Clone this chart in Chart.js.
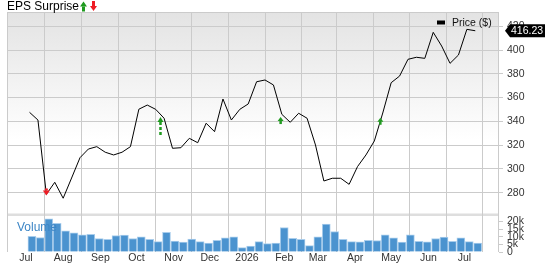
<!DOCTYPE html>
<html>
<head>
<meta charset="utf-8">
<script src="https://cdn.jsdelivr.net/npm/chart.js@4/dist/chart.umd.min.js"></script>
<style>
  html, body { margin: 0; padding: 0; background: #fff; }
</style>
</head>
<body>
<canvas id="chart" width="545" height="264"></canvas>
<script>
// x axis: month starts and the label shown at each
const monthStarts = ['2025-07-01','2025-08-01','2025-09-01','2025-10-01','2025-11-01','2025-12-01','2026-01-01','2026-02-01','2026-03-01','2026-04-01','2026-05-01','2026-06-01','2026-07-01']
const monthLabels = ['Jul','Aug','Sep','Oct','Nov','Dec','2026','Feb','Mar','Apr','May','Jun','Jul']

// right axis ticks
const priceTicks = [280, 300, 320, 340, 360, 380, 400, 420]
const volumeTicks = [0, 5, 10, 15, 20]
const volumeTickLabels = ['0', '5k', '10k', '15k', '20k']

// weekly closes, first week ending 2025-07-04
const priceStart = '2025-07-04'
const prices = [347.6, 341.1, 278.6, 288.7, 275.3, 292.3, 309.4, 316.7, 318.7, 314.0,
  311.7, 314.0, 318.7, 350.2, 353.7, 350.1, 342.6, 317.3, 317.8, 325.7,
  322.0, 338.4, 331.3, 358.8, 341.1, 350.1, 354.6, 373.3, 374.8, 370.6,
  345.9, 339.2, 346.8, 342.6, 320.1, 289.8, 292.1, 292.1, 287.0, 301.9,
  311.7, 323.5, 347.0, 372.5, 378.1, 392.2, 393.9, 393.0, 414.9, 403.4,
  388.8, 395.8, 417.4, 416.23]

// weekly volume in thousands
const volumeStart = '2025-07-06'
const volumes = [10.3, 9.5, 21.7, 18.7, 13.8, 12.5, 11.2, 11.6, 8.8, 8.2,
  10.8, 11.0, 8.8, 9.9, 8.2, 6.8, 12.8, 7.2, 6.4, 8.4,
  6.8, 5.9, 7.7, 9.2, 9.9, 2.9, 3.9, 6.8, 5.5, 5.9,
  16.0, 9.0, 8.2, 4.2, 9.9, 18.2, 13.4, 8.2, 6.8, 6.6,
  7.7, 7.5, 11.2, 9.2, 6.4, 11.2, 7.0, 6.6, 8.8, 9.7,
  7.0, 9.2, 6.8, 5.9]

// eps surprise markers: date, beat or miss, price level of the arrow tip
const epsDates = ['2025-07-18', '2025-10-21', '2026-01-29', '2026-04-22']
const epsBeat = [false, true, true, true]
const epsLevel = [277.6, 343.7, 343.6, 343.0]
const epsDashed = [false, true, false, false]

const day = s => Math.round((Date.parse(s) - Date.parse('2025-07-01')) / 864e5)

const priceData = prices.map((p, i) => ({ x: day(priceStart) + 7 * i, y: p }))
const volumeData = volumes.map((v, i) => ({ x: day(volumeStart) + 7 * i, y: v }))

const FONT = '"Liberation Sans", Arial, sans-serif'
const GRID = '#cbcbcb'
const GREEN = '#1f9a1f'
const RED = '#ee1c25'

function arrow(ctx, x, tip, up, color, headW, headH, stemW, stemL, dashed) {
  const d = up ? 1 : -1
  ctx.save()
  ctx.fillStyle = color
  ctx.strokeStyle = color
  ctx.beginPath()
  ctx.moveTo(x, tip)
  ctx.lineTo(x - headW / 2, tip + d * headH)
  ctx.lineTo(x + headW / 2, tip + d * headH)
  ctx.closePath()
  ctx.fill()
  ctx.lineWidth = stemW
  if (dashed) ctx.setLineDash([3, 2])
  ctx.beginPath()
  ctx.moveTo(x, tip + d * headH)
  ctx.lineTo(x, tip + d * (headH + stemL))
  ctx.stroke()
  ctx.restore()
}

// panel backgrounds, separator band, titles, markers and price flag
const decorations = {
  id: 'decorations',
  beforeDraw(chart) {
    const { ctx, chartArea: a, scales } = chart
    const sep = scales.volume.top
    ctx.save()
    const g = ctx.createLinearGradient(0, a.top, 0, 140)
    g.addColorStop(0, '#e3e3e3')
    g.addColorStop(1, '#ffffff')
    ctx.fillStyle = g
    ctx.fillRect(a.left, a.top, a.right - a.left, sep - a.top)
    ctx.fillStyle = '#dedede'
    ctx.fillRect(a.left, sep - 1, a.right - a.left, 2.5)
    ctx.strokeStyle = GRID
    ctx.lineWidth = 1
    ctx.beginPath()
    ctx.moveTo(a.left, a.top + 0.5)
    ctx.lineTo(a.right, a.top + 0.5)
    ctx.moveTo(a.right - 0.5, a.top)
    ctx.lineTo(a.right - 0.5, a.bottom)
    ctx.stroke()
    ctx.restore()
  },
  afterDraw(chart) {
    const { ctx, scales } = chart
    ctx.save()
    // title
    ctx.fillStyle = '#000'
    ctx.font = '12px ' + FONT
    ctx.textBaseline = 'alphabetic'
    ctx.fillText('EPS Surprise', 7, 10)
    arrow(ctx, 83.5, 1.5, true, GREEN, 7, 5, 3, 5, false)
    arrow(ctx, 93.5, 11, false, RED, 7, 5, 3, 5, false)

    // eps markers on the chart
    epsDates.forEach((d, i) => {
      const x = scales.x.getPixelForValue(day(d))
      const y = scales.price.getPixelForValue(epsLevel[i])
      if (!epsBeat[i]) arrow(ctx, x, y, false, RED, 7, 5, 3, 2, false)
      else if (epsDashed[i]) arrow(ctx, x, y, true, GREEN, 6, 5, 2.5, 13, true)
      else arrow(ctx, x, y, true, GREEN, 6, 4, 2.5, 3, false)
    })

    // legend
    ctx.fillStyle = '#000'
    ctx.fillRect(437, 20.5, 8, 4)
    ctx.font = '10.5px ' + FONT
    ctx.textBaseline = 'middle'
    ctx.fillStyle = '#111'
    ctx.fillText('Price ($)', 452, 23)

    // volume label
    ctx.font = '12px ' + FONT
    ctx.fillStyle = '#3d86c6'
    ctx.textBaseline = 'alphabetic'
    ctx.fillText('Volume', 17, 231)

    // last price flag
    const last = prices[prices.length - 1]
    const py = scales.price.getPixelForValue(last)
    ctx.fillStyle = '#000'
    ctx.beginPath()
    ctx.moveTo(505, py)
    ctx.lineTo(510, py - 6.5)
    ctx.lineTo(545, py - 6.5)
    ctx.lineTo(545, py + 6.5)
    ctx.lineTo(510, py + 6.5)
    ctx.closePath()
    ctx.fill()
    ctx.fillStyle = '#fff'
    ctx.font = '10.5px ' + FONT
    ctx.textBaseline = 'middle'
    ctx.fillText(last.toFixed(2), 511, py + 0.5)
    ctx.restore()
  }
}

new Chart(document.getElementById('chart'), {
  data: {
    datasets: [
      {
        type: 'line',
        label: 'Price ($)',
        data: priceData,
        yAxisID: 'price',
        borderColor: '#000',
        borderWidth: 1,
        pointRadius: 0,
        tension: 0,
        order: 0
      },
      {
        type: 'bar',
        label: 'Volume',
        data: volumeData,
        yAxisID: 'volume',
        backgroundColor: '#4b93cf',
        borderColor: '#a9cdec',
        borderWidth: { top: 1, left: 1, right: 1, bottom: 0 },
        barThickness: 8,
        order: 1
      }
    ]
  },
  options: {
    responsive: false,
    animation: false,
    devicePixelRatio: 1,
    layout: { padding: { left: 7, top: 12, right: 0, bottom: 0 } },
    plugins: { legend: { display: false }, tooltip: { enabled: false } },
    scales: {
      x: {
        type: 'linear',
        min: 0,
        max: 378,
        grid: { color: GRID, drawTicks: false },
        border: { display: false },
        ticks: {
          autoSkip: false,
          maxRotation: 0,
          padding: 1,
          color: '#333',
          font: { family: FONT, size: 10.5, lineHeight: 1 },
          callback: v => monthLabels[monthStarts.findIndex(d => day(d) === v)]
        },
        afterBuildTicks: s => { s.ticks = monthStarts.map(d => ({ value: day(d) })) },
        afterFit: s => { s.paddingLeft = 0; s.paddingRight = 0; s.height = 12 }
      },
      price: {
        type: 'linear',
        position: 'right',
        stack: 'panels',
        stackWeight: 5.4,
        min: 261.6,
        max: 432,
        grid: { color: GRID, tickLength: 4 },
        border: { display: false },
        ticks: { autoSkip: false, padding: 4, color: '#333', font: { family: FONT, size: 10.5 } },
        afterBuildTicks: s => { s.ticks = priceTicks.map(v => ({ value: v })) },
        afterFit: s => { s.width = 46 }
      },
      volume: {
        type: 'linear',
        position: 'right',
        stack: 'panels',
        stackWeight: 1,
        min: 0,
        max: 24.5,
        grid: { drawOnChartArea: false, color: GRID, tickLength: 4 },
        border: { display: false },
        ticks: {
          autoSkip: false,
          padding: 4,
          color: '#333',
          font: { family: FONT, size: 10.5, lineHeight: 0.8 },
          callback: v => volumeTickLabels[volumeTicks.indexOf(v)]
        },
        afterBuildTicks: s => { s.ticks = volumeTicks.map(v => ({ value: v })) },
        afterFit: s => { s.width = 46 }
      }
    }
  },
  plugins: [decorations]
})
</script>
</body>
</html>
